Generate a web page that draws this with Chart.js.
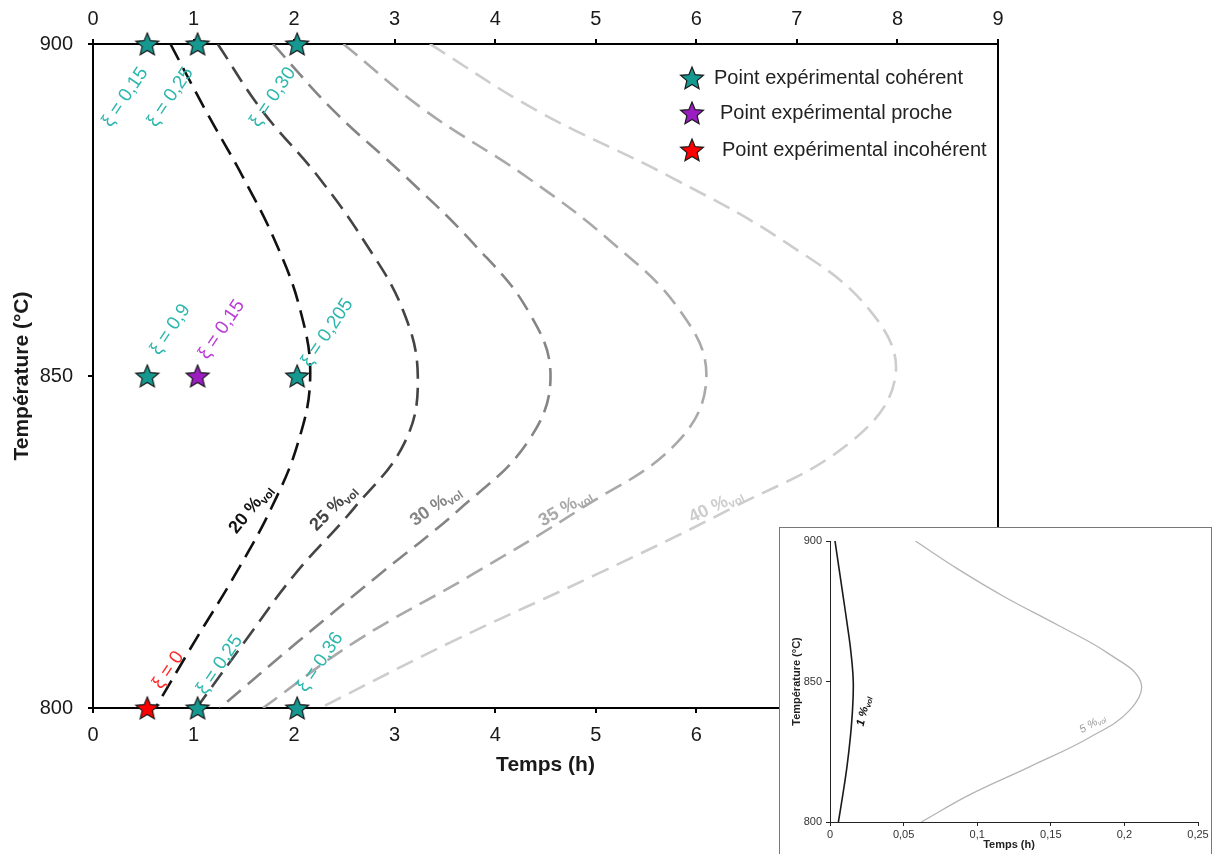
<!DOCTYPE html>
<html lang="fr">
<head>
<meta charset="utf-8">
<title>Temps de traitement en fonction de la température</title>
<script src="https://cdn.jsdelivr.net/npm/chart.js@4.4.1/dist/chart.umd.min.js"></script>
<style>
  html, body { margin: 0; padding: 0; background: #fff; overflow: hidden; }
  #main { position: absolute; left: 0; top: 0; }
  #insetBox { position: absolute; left: 779px; top: 527px; width: 431px; height: 340px;
              border: 1px solid #777; background: #fff; }
  #inset { position: absolute; left: 0; top: 0; }
</style>
</head>
<body>
<canvas id="main" width="1212" height="854"></canvas>
<div id="insetBox"><canvas id="inset" width="431" height="327"></canvas></div>
<script>
// --- data (time in h for each temperature in °C) ---
const temperatures = [900, 890, 880, 870, 860, 850, 840, 830, 820, 810, 800];
const time20 = [0.77, 1.12, 1.49, 1.82, 2.06, 2.16, 2.04, 1.77, 1.41, 1.01, 0.62];
const time25 = [1.24, 1.68, 2.24, 2.71, 3.08, 3.23, 3.10, 2.59, 2.00, 1.51, 1.03];
const time30 = [1.79, 2.39, 3.11, 3.78, 4.32, 4.55, 4.32, 3.65, 2.84, 2.04, 1.26];
const time35 = [2.49, 3.30, 4.31, 5.17, 5.83, 6.10, 5.81, 4.85, 3.76, 2.61, 1.69];
const time40 = [3.35, 4.41, 5.74, 6.90, 7.72, 7.98, 7.53, 6.34, 4.99, 3.57, 2.26];

const coherentTimes = [0.54, 1.04, 2.03, 0.54, 2.03, 1.04, 2.03];
const coherentTemps = [900, 900, 900, 850, 850, 800, 800];
const closeTimes = [1.04];
const closeTemps = [850];
const incoherentTimes = [0.54];
const incoherentTemps = [800];

const xiLabels = ['ξ = 0,15', 'ξ = 0,25', 'ξ = 0,30', 'ξ = 0,9', 'ξ = 0,15', 'ξ = 0,205', 'ξ = 0', 'ξ = 0,25', 'ξ = 0,36'];
const xiKinds = ['ok', 'ok', 'ok', 'ok', 'close', 'ok', 'bad', 'ok', 'ok'];
const curveNames = ['20 %', '25 %', '30 %', '35 %', '40 %'];
const legendLabels = ['Point expérimental cohérent', 'Point expérimental proche', 'Point expérimental incohérent'];

const hourTicks = [0, 1, 2, 3, 4, 5, 6, 7, 8, 9];
const tempTicks = [800, 850, 900];

// inset (low concentrations)
const insetTemps = [900, 890, 880, 870, 860, 850, 840, 830, 820, 810, 800];
const insetTime1 = [0.0034, 0.0062, 0.0090, 0.0118, 0.0143, 0.0158, 0.0153, 0.0138, 0.0116, 0.0088, 0.0057];
const insetTime5 = [0.058, 0.087, 0.119, 0.155, 0.189, 0.211, 0.204, 0.176, 0.137, 0.096, 0.062];
const insetTimeTicks = [0, 0.05, 0.1, 0.15, 0.2, 0.25];
const insetTimeLabels = ['0', '0,05', '0,1', '0,15', '0,2', '0,25'];
const insetNames = ['1 %', '5 %'];

// --- layout / style (kept apart from the data) ---
const FONT = "'Liberation Sans', Arial, sans-serif";
const kindColor = { ok: '#2db7ae', close: '#b93ad6', bad: '#ff2a2a' };
const starFill = { ok: '#15988f', close: '#9b1dc2', bad: '#ff0000' };
const curveColors = ['#111111', '#444444', '#858585', '#a9a9a9', '#cdcdcd'];
// label anchors in data units (h, °C) and angles
const xiPos = [[0.32, 892], [0.77, 892], [1.79, 892], [0.77, 857], [1.28, 857], [2.33, 856.5], [0.75, 805.7], [1.26, 806.5], [2.26, 806.9]];
const curveLabelPos = [[1.56, 830.1], [2.38, 830.3], [3.40, 830.6], [4.69, 830.3], [6.19, 830.6]];
const curveLabelAngle = [-51, -45, -35, -30, -26];

const pairs = (xs, ys) => xs.map((v, i) => ({ x: v, y: ys[i] }));

function makeStar(fill, outer) {
    const size = Math.round(outer * 2 + 4);
    const c = document.createElement('canvas');
    c.width = size;
    c.height = size;
    const g = c.getContext('2d');
    const cx = size / 2, cy = size / 2 + 1, inner = outer * 0.45;
    g.beginPath();
    for (let i = 0; i < 10; i++) {
        const r = i % 2 === 0 ? outer : inner;
        const a = -Math.PI / 2 + i * Math.PI / 5;
        const px = cx + r * Math.cos(a), py = cy + r * Math.sin(a);
        if (i === 0) g.moveTo(px, py); else g.lineTo(px, py);
    }
    g.closePath();
    g.fillStyle = fill;
    g.fill();
    g.lineWidth = 1.2;
    g.strokeStyle = '#1a1a1a';
    g.stroke();
    return c;
}

const stars = {
    ok: makeStar(starFill.ok, 12),
    close: makeStar(starFill.close, 12),
    bad: makeStar(starFill.bad, 12)
};

function drawText(ctx, text, x, y, angle, font, color) {
    ctx.save();
    ctx.translate(x, y);
    ctx.rotate(angle * Math.PI / 180);
    ctx.font = font;
    ctx.fillStyle = color;
    ctx.textAlign = 'center';
    ctx.textBaseline = 'middle';
    ctx.fillText(text, 0, 0);
    ctx.restore();
}

// "20 %" followed by a subscript "vol"
function drawVolLabel(ctx, text, x, y, angle, size, color, style) {
    const subSize = size * 0.64;
    ctx.save();
    ctx.translate(x, y);
    ctx.rotate(angle * Math.PI / 180);
    ctx.fillStyle = color;
    ctx.textBaseline = 'alphabetic';
    ctx.font = `${style} ${size}px ${FONT}`;
    const w1 = ctx.measureText(text).width;
    ctx.font = `${style} ${subSize}px ${FONT}`;
    const w2 = ctx.measureText('vol').width;
    const x0 = -(w1 + w2) / 2;
    ctx.font = `${style} ${size}px ${FONT}`;
    ctx.fillText(text, x0, size * 0.35);
    ctx.font = `${style} ${subSize}px ${FONT}`;
    ctx.fillText('vol', x0 + w1, size * 0.35 + size * 0.2);
    ctx.restore();
}

const mainDecor = {
    id: 'mainDecor',
    afterDatasetsDraw(chart) {
        const { ctx, chartArea, scales: { x, y } } = chart;

        xiLabels.forEach((t, i) => {
            const p = xiPos[i];
            drawText(ctx, t, x.getPixelForValue(p[0]), y.getPixelForValue(p[1]), -56,
                `19px ${FONT}`, kindColor[xiKinds[i]]);
        });

        curveNames.forEach((t, i) => {
            const p = curveLabelPos[i];
            drawVolLabel(ctx, t, x.getPixelForValue(p[0]), y.getPixelForValue(p[1]),
                curveLabelAngle[i], 18, curveColors[i], 'bold');
        });

        drawText(ctx, 'Temps (h)', (chartArea.left + chartArea.right) / 2, 765, 0, `bold 21px ${FONT}`, '#1a1a1a');
        drawText(ctx, 'Température (°C)', 22, (chartArea.top + chartArea.bottom) / 2, -90, `bold 21px ${FONT}`, '#1a1a1a');

        // legend box
        const legendKinds = ['ok', 'close', 'bad'];
        const legendY = [78, 113, 150];
        const legendX = [714, 720, 722];
        legendLabels.forEach((t, i) => {
            const s = stars[legendKinds[i]];
            ctx.drawImage(s, 692 - s.width / 2, legendY[i] - s.height / 2);
            ctx.font = `20px ${FONT}`;
            ctx.fillStyle = '#222';
            ctx.textAlign = 'left';
            ctx.textBaseline = 'middle';
            ctx.fillText(t, legendX[i], legendY[i]);
        });
    }
};

const frame = { display: true, color: '#000', width: 2 };
const tickGrid = { drawOnChartArea: false, drawTicks: true, tickLength: 5, color: '#000', lineWidth: 2 };
const tickFont = { family: FONT, size: 20 };

const curveSet = (label, times, i) => ({
    label: label,
    data: pairs(times, temperatures),
    showLine: true,
    borderColor: curveColors[i],
    borderWidth: 2.6,
    borderDash: [18, 9],
    pointRadius: 0,
    tension: 0.4,
    fill: false
});

const starSet = (label, times, temps, kind) => ({
    label: label,
    data: pairs(times, temps),
    showLine: false,
    pointStyle: stars[kind],
    pointRadius: 12,
    clip: false
});

new Chart(document.getElementById('main'), {
    type: 'scatter',
    data: {
        datasets: [
            starSet(legendLabels[0], coherentTimes, coherentTemps, 'ok'),
            starSet(legendLabels[1], closeTimes, closeTemps, 'close'),
            starSet(legendLabels[2], incoherentTimes, incoherentTemps, 'bad'),
            curveSet('20 %vol', time20, 0),
            curveSet('25 %vol', time25, 1),
            curveSet('30 %vol', time30, 2),
            curveSet('35 %vol', time35, 3),
            curveSet('40 %vol', time40, 4)
        ]
    },
    options: {
        responsive: false,
        animation: false,
        layout: { padding: 0 },
        plugins: { legend: { display: false }, tooltip: { enabled: false } },
        scales: {
            x: {
                type: 'linear', position: 'bottom', min: 0, max: 9,
                afterBuildTicks: s => { s.ticks = hourTicks.map(v => ({ value: v })); },
                afterFit: s => { s.height = 146; },
                border: frame, grid: tickGrid,
                ticks: { font: tickFont, color: '#1a1a1a', padding: 10, maxRotation: 0 }
            },
            x2: {
                type: 'linear', position: 'top', min: 0, max: 9,
                afterBuildTicks: s => { s.ticks = hourTicks.map(v => ({ value: v })); },
                afterFit: s => { s.height = 44; },
                border: frame, grid: tickGrid,
                ticks: { font: tickFont, color: '#1a1a1a', padding: 8, maxRotation: 0 }
            },
            y: {
                type: 'linear', position: 'left', min: 800, max: 900,
                afterBuildTicks: s => { s.ticks = tempTicks.map(v => ({ value: v })); },
                afterFit: s => { s.width = 93; },
                border: frame, grid: tickGrid,
                ticks: { font: tickFont, color: '#1a1a1a', padding: 15 }
            },
            y2: {
                type: 'linear', position: 'right', min: 800, max: 900,
                afterFit: s => { s.width = 214; },
                border: frame,
                grid: { drawOnChartArea: false, drawTicks: false },
                ticks: { display: false }
            }
        }
    },
    plugins: [mainDecor]
});

// --- inset ---
const insetDecor = {
    id: 'insetDecor',
    afterDatasetsDraw(chart) {
        const { ctx, chartArea, scales: { x, y } } = chart;
        drawVolLabel(ctx, insetNames[0], x.getPixelForValue(0.0225), y.getPixelForValue(839.5), -77, 11.5, '#111', 'italic bold');
        drawVolLabel(ctx, insetNames[1], x.getPixelForValue(0.178), y.getPixelForValue(835.2), -29, 11, '#9a9a9a', 'italic');
        drawText(ctx, 'Temps (h)', (chartArea.left + chartArea.right) / 2 - 5, 317, 0, `bold 11px ${FONT}`, '#222');
        drawText(ctx, 'Température (°C)', 17, (chartArea.top + chartArea.bottom) / 2, -90, `bold 11px ${FONT}`, '#222');
    }
};

const insetGrid = { drawOnChartArea: false, drawTicks: true, tickLength: 4, color: '#222', lineWidth: 1 };
const insetFont = { family: FONT, size: 11 };

new Chart(document.getElementById('inset'), {
    type: 'scatter',
    data: {
        datasets: [
            { label: '1 %vol', data: pairs(insetTime1, insetTemps), showLine: true, borderColor: '#1a1a1a',
              borderWidth: 1.6, pointRadius: 0, tension: 0.4 },
            { label: '5 %vol', data: pairs(insetTime5, insetTemps), showLine: true, borderColor: '#b4b4b4',
              borderWidth: 1.3, pointRadius: 0, tension: 0.4 }
        ]
    },
    options: {
        responsive: false,
        animation: false,
        layout: { padding: { top: 13, right: 13, left: 0, bottom: 0 } },
        plugins: { legend: { display: false }, tooltip: { enabled: false } },
        scales: {
            x: {
                type: 'linear', min: 0, max: 0.25,
                afterBuildTicks: s => { s.ticks = insetTimeTicks.map(v => ({ value: v })); },
                afterFit: s => { s.height = 33; },
                border: { display: true, color: '#222', width: 1 }, grid: insetGrid,
                ticks: { font: insetFont, color: '#333', padding: 2, maxRotation: 0,
                         callback: (v, i) => insetTimeLabels[i] }
            },
            y: {
                type: 'linear', min: 800, max: 900,
                afterBuildTicks: s => { s.ticks = tempTicks.map(v => ({ value: v })); },
                afterFit: s => { s.width = 50; },
                border: { display: true, color: '#222', width: 1 }, grid: insetGrid,
                ticks: { font: insetFont, color: '#333', padding: 4 }
            }
        }
    },
    plugins: [insetDecor]
});
</script>
</body>
</html>
